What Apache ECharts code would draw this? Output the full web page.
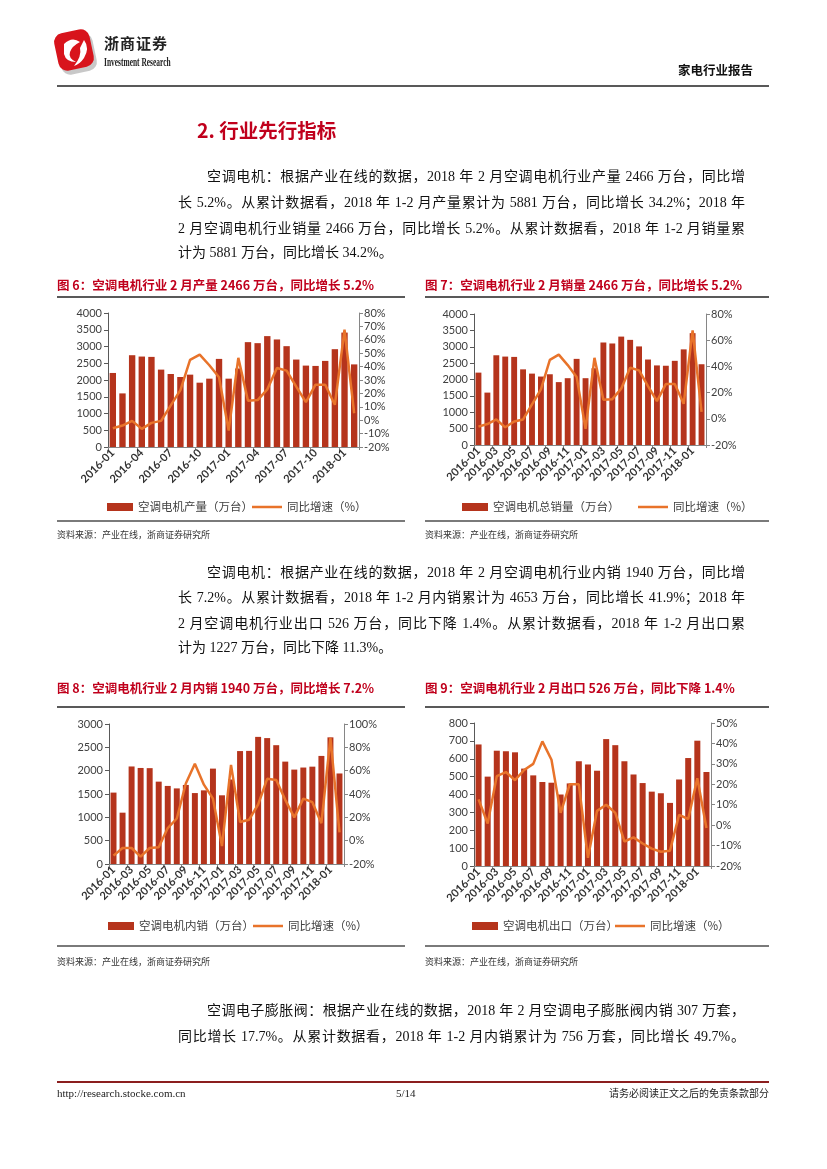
<!DOCTYPE html>
<html>
<head>
<meta charset="utf-8">
<script src="https://cdn.jsdelivr.net/npm/echarts@6/dist/echarts.min.js"></script>
<style>
  body { margin:0; background:#fff; }
  #page { position:relative; width:827px; height:1169px; background:#fff; overflow:hidden; }
  #chart { position:absolute; left:0; top:0; width:827px; height:1169px; }
  .t { position:absolute; white-space:nowrap; }
  .p { position:absolute; font-family:"Liberation Serif","Noto Sans CJK SC",serif; font-size:14px; line-height:20px; color:#111; white-space:nowrap; }
  .j { text-align:justify; text-align-last:justify; }
  .rule { position:absolute; height:2px; background:#595959; }
  .figt { position:absolute; font-family:"Noto Sans CJK SC","Liberation Sans",sans-serif; font-weight:bold; font-size:12.5px; line-height:16px; color:#C0001C; white-space:nowrap; }
  .src { position:absolute; font-family:"Noto Sans CJK SC",serif; font-size:9px; line-height:14px; color:#333; white-space:nowrap; }
</style>
</head>
<body>
<div id="page">
  <div id="chart"></div>

  <!-- header -->
  <svg style="position:absolute;left:50px;top:26px" width="52" height="54">
    <rect x="9" y="9" width="36" height="38" rx="9" fill="#9a9a9a" opacity="0.55" transform="rotate(-12 27 28)"/>
    <rect x="6" y="5" width="36" height="38" rx="9" fill="#D8141C" transform="rotate(-12 24 24)"/>
    <path d="M14 18 Q22 10 30 16 Q22 20 20 26 Q18 32 26 36 Q16 36 14 28 Z" fill="#fff"/>
    <path d="M34 14 Q40 22 34 32 Q30 38 24 40 Q32 30 30 22 Z" fill="#fff"/>
  </svg>
  <div class="t" style="left:104px;top:34px;font-family:'Noto Sans CJK SC',serif;font-weight:bold;font-size:15px;line-height:18px;color:#222;letter-spacing:1px;">浙商证券</div>
  <div class="t" style="left:104px;top:55px;font-family:'Liberation Serif',serif;font-weight:bold;font-size:12px;line-height:14px;color:#222;transform:scaleX(0.62);transform-origin:left top;">Investment Research</div>
  <div class="t" style="left:678px;top:62px;font-family:'Noto Sans CJK SC',sans-serif;font-weight:bold;font-size:12.5px;line-height:16px;color:#111;">家电行业报告</div>
  <div class="rule" style="left:57px;top:85px;width:712px;"></div>

  <!-- section title -->
  <div class="t" style="left:197px;top:118px;font-family:'Noto Sans CJK SC',sans-serif;font-weight:bold;font-size:19.5px;line-height:24px;color:#C0001C;">2. 行业先行指标</div>

  <!-- paragraph 1 -->
  <div class="p j" style="left:207px;top:167px;width:538px;">空调电机：根据产业在线的数据，2018 年 2 月空调电机行业产量 2466 万台，同比增</div>
  <div class="p j" style="left:178px;top:193px;width:567px;">长 5.2%。从累计数据看，2018 年 1-2 月产量累计为 5881 万台，同比增长 34.2%；2018 年</div>
  <div class="p j" style="left:178px;top:219px;width:567px;">2 月空调电机行业销量 2466 万台，同比增长 5.2%。从累计数据看，2018 年 1-2 月销量累</div>
  <div class="p" style="left:178px;top:243px;">计为 5881 万台，同比增长 34.2%。</div>

  <!-- figure 6/7 titles -->
  <div class="figt" style="left:57px;top:277px;">图 6：空调电机行业 2 月产量 2466 万台，同比增长 5.2%</div>
  <div class="figt" style="left:425px;top:277px;">图 7：空调电机行业 2 月销量 2466 万台，同比增长 5.2%</div>
  <div class="rule" style="left:57px;top:296px;width:348px;"></div>
  <div class="rule" style="left:425px;top:296px;width:344px;"></div>
  <div class="rule" style="left:57px;top:520px;width:348px;background:#7a7a7a;"></div>
  <div class="rule" style="left:425px;top:520px;width:344px;background:#7a7a7a;"></div>
  <div class="src" style="left:57px;top:528px;">资料来源：产业在线，浙商证券研究所</div>
  <div class="src" style="left:425px;top:528px;">资料来源：产业在线，浙商证券研究所</div>

  <!-- paragraph 2 -->
  <div class="p j" style="left:207px;top:563px;width:538px;">空调电机：根据产业在线的数据，2018 年 2 月空调电机行业内销 1940 万台，同比增</div>
  <div class="p j" style="left:178px;top:588px;width:567px;">长 7.2%。从累计数据看，2018 年 1-2 月内销累计为 4653 万台，同比增长 41.9%；2018 年</div>
  <div class="p j" style="left:178px;top:614px;width:567px;">2 月空调电机行业出口 526 万台，同比下降 1.4%。从累计数据看，2018 年 1-2 月出口累</div>
  <div class="p" style="left:178px;top:638px;">计为 1227 万台，同比下降 11.3%。</div>

  <!-- figure 8/9 titles -->
  <div class="figt" style="left:57px;top:680px;">图 8：空调电机行业 2 月内销 1940 万台，同比增长 7.2%</div>
  <div class="figt" style="left:425px;top:680px;">图 9：空调电机行业 2 月出口 526 万台，同比下降 1.4%</div>
  <div class="rule" style="left:57px;top:706px;width:348px;"></div>
  <div class="rule" style="left:425px;top:706px;width:344px;"></div>
  <div class="rule" style="left:57px;top:945px;width:348px;background:#7a7a7a;"></div>
  <div class="rule" style="left:425px;top:945px;width:344px;background:#7a7a7a;"></div>
  <div class="src" style="left:57px;top:955px;">资料来源：产业在线，浙商证券研究所</div>
  <div class="src" style="left:425px;top:955px;">资料来源：产业在线，浙商证券研究所</div>

  <!-- paragraph 3 -->
  <div class="p j" style="left:207px;top:1001px;width:538px;">空调电子膨胀阀：根据产业在线的数据，2018 年 2 月空调电子膨胀阀内销 307 万套，</div>
  <div class="p j" style="left:178px;top:1027px;width:567px;">同比增长 17.7%。从累计数据看，2018 年 1-2 月内销累计为 756 万套，同比增长 49.7%。</div>

  <!-- footer -->
  <div class="rule" style="left:57px;top:1081px;width:712px;height:1.5px;background:#8B1E1E;"></div>
  <div class="t" style="left:57px;top:1086px;font-family:'Liberation Serif',serif;font-size:11px;line-height:14px;color:#222;">http://research.stocke.com.cn</div>
  <div class="t" style="left:396px;top:1086px;font-family:'Liberation Serif',serif;font-size:11px;line-height:14px;color:#222;">5/14</div>
  <div class="t" style="right:58px;top:1086px;font-family:'Noto Sans CJK SC',serif;font-size:10px;line-height:14px;color:#222;">请务必阅读正文之后的免责条款部分</div>
</div>

<script>
// ---------------- data ----------------
const months = ['2016-01','2016-02','2016-03','2016-04','2016-05','2016-06','2016-07','2016-08','2016-09','2016-10','2016-11','2016-12',
                '2017-01','2017-02','2017-03','2017-04','2017-05','2017-06','2017-07','2017-08','2017-09','2017-10','2017-11','2017-12',
                '2018-01','2018-02'];

// 图6 产量（万台）与同比（%）
const prodVals = [2210,1600,2740,2700,2690,2310,2180,2090,2160,1920,2040,2630,2040,2344,3130,3100,3310,3210,3010,2610,2430,2420,2570,2920,3415,2466];
const prodYoY  = [-6,-4,-0.5,-6.5,-2,-0.5,11,22.5,45,49,41,32,-7.7,46.5,14.5,15,23,39,37,25,13.5,26.5,26.5,11.5,67.5,5.2];

// 图7 总销量（万台）与同比（%）
const salesVals = [2210,1600,2740,2700,2690,2310,2180,2090,2160,1920,2040,2630,2040,2344,3130,3100,3310,3210,3010,2610,2430,2420,2570,2920,3415,2466];
const salesYoY  = [-6,-4,-0.5,-6.5,-2,-0.5,11,22.5,45,49,41,32,-7.7,46.5,14.5,15,23,39,37,25,13.5,26.5,26.5,11.5,67.5,5.2];

// 图8 内销（万台）与同比（%）
const domVals = [1530,1100,2090,2058,2054,1765,1673,1620,1694,1520,1578,2044,1472,1811,2420,2424,2724,2698,2546,2194,2023,2067,2086,2316,2714,1940];
const domYoY  = [-12.8,-6.3,-6.3,-13.7,-6.3,-5.7,10.8,19,49,66,48,36,-4.6,65,16,18,31,53,52,35,20,36,33,15,88,7.2];

// 图9 出口（万台）与同比（%）
const expVals = [680,500,645,642,636,545,507,470,466,400,462,586,568,533,710,676,586,512,464,416,407,353,484,604,701,526];
const expYoY  = [12.6,0.8,24,26,22,27,30,41,32,6,20,20,-16,7,10,6,-8,-6,-9,-11.5,-13,-12.5,5,3,23,-1.4];

// ---------------- chart ----------------
const BAR = '#B5341C', LINE = '#E8732A', AX = '#868686', LBL = '#404040';
const FONT = 'Lato, "Noto Sans CJK SC", sans-serif';

const specs = [
  { grid:{left:108, top:313, width:251, height:134}, bars:prodVals, yoy:prodYoY, barName:'空调电机产量（万台）',
    lmax:4000, lint:500, rmin:-20, rmax:80, rint:10, xint:2, leg:[{left:107,top:500},{left:252,top:500}] },
  { grid:{left:474, top:314, width:232, height:131}, bars:salesVals, yoy:salesYoY, barName:'空调电机总销量（万台）',
    lmax:4000, lint:500, rmin:-20, rmax:80, rint:20, xint:1, leg:[{left:462,top:500},{left:638,top:500}] },
  { grid:{left:109, top:724, width:235, height:140}, bars:domVals, yoy:domYoY, barName:'空调电机内销（万台）',
    lmax:3000, lint:500, rmin:-20, rmax:100, rint:20, xint:1, leg:[{left:108,top:919},{left:253,top:919}] },
  { grid:{left:474, top:723, width:237, height:143}, bars:expVals, yoy:expYoY, barName:'空调电机出口（万台）',
    lmax:800, lint:100, rmin:-20, rmax:50, rint:10, xint:1, leg:[{left:472,top:919},{left:615,top:919}] }
];

const option = { animation:false, grid:[], xAxis:[], yAxis:[], series:[], legend:[] };
specs.forEach((s, i) => {
  option.grid.push(Object.assign({ outerBoundsMode:'none', containLabel:false }, s.grid));
  option.xAxis.push({
    type:'category', gridIndex:i, data:months, boundaryGap:true,
    axisLine:{ lineStyle:{ color:AX, width:1 } },
    axisTick:{ show:true, interval:s.xint, length:3, lineStyle:{ color:AX } },
    axisLabel:{ interval:s.xint, rotate:45, fontSize:11, fontWeight:'bold', color:'#333', fontFamily:FONT, margin:4 },
    splitLine:{ show:false }
  });
  option.yAxis.push({
    type:'value', gridIndex:i, position:'left', min:0, max:s.lmax, interval:s.lint,
    axisLine:{ show:true, lineStyle:{ color:'#595959', width:1 } },
    axisTick:{ show:true, length:4, lineStyle:{ color:'#595959' } },
    axisLabel:{ fontSize:11, color:LBL, fontFamily:FONT, margin:6, formatter:(v) => String(v) },
    splitLine:{ show:false }
  });
  option.yAxis.push({
    type:'value', gridIndex:i, position:'right', min:s.rmin, max:s.rmax, interval:s.rint,
    axisLine:{ show:true, lineStyle:{ color:AX, width:1 } },
    axisTick:{ show:true, length:4, lineStyle:{ color:AX } },
    axisLabel:{ fontSize:11, color:LBL, fontFamily:FONT, margin:5, formatter:(v) => v + '%' },
    splitLine:{ show:false }
  });
  const lineName = '同比增速（%）' + '\u200b'.repeat(i);
  const barName = s.barName;
  option.series.push({
    type:'bar', name:barName, xAxisIndex:i, yAxisIndex:2*i, data:s.bars,
    barWidth:'66%', itemStyle:{ color:BAR }, z:2
  });
  option.series.push({
    type:'line', name:lineName, xAxisIndex:i, yAxisIndex:2*i+1, data:s.yoy,
    showSymbol:false, symbol:'none', smooth:false, lineStyle:{ color:LINE, width:2.5 }, itemStyle:{ color:LINE }, z:3
  });
  option.legend.push({
    data:[{ name:barName, icon:'rect' }], left:s.leg[0].left, top:s.leg[0].top,
    itemWidth:26, itemHeight:8, itemGap:5, padding:0, selectedMode:false,
    textStyle:{ fontSize:11.5, color:LBL, fontFamily:'"Noto Sans CJK SC", sans-serif', lineHeight:14, height:14 }
  });
  option.legend.push({
    data:[{ name:lineName, icon:'rect' }], left:s.leg[1].left, top:s.leg[1].top,
    itemWidth:30, itemHeight:2.5, itemGap:5, padding:0, selectedMode:false,
    textStyle:{ fontSize:11.5, color:LBL, fontFamily:'"Noto Sans CJK SC", sans-serif', lineHeight:14, height:14 }
  });
});

const chart = echarts.init(document.getElementById('chart'), null, { renderer:'canvas' });
chart.setOption(option);
</script>
</body>
</html>
